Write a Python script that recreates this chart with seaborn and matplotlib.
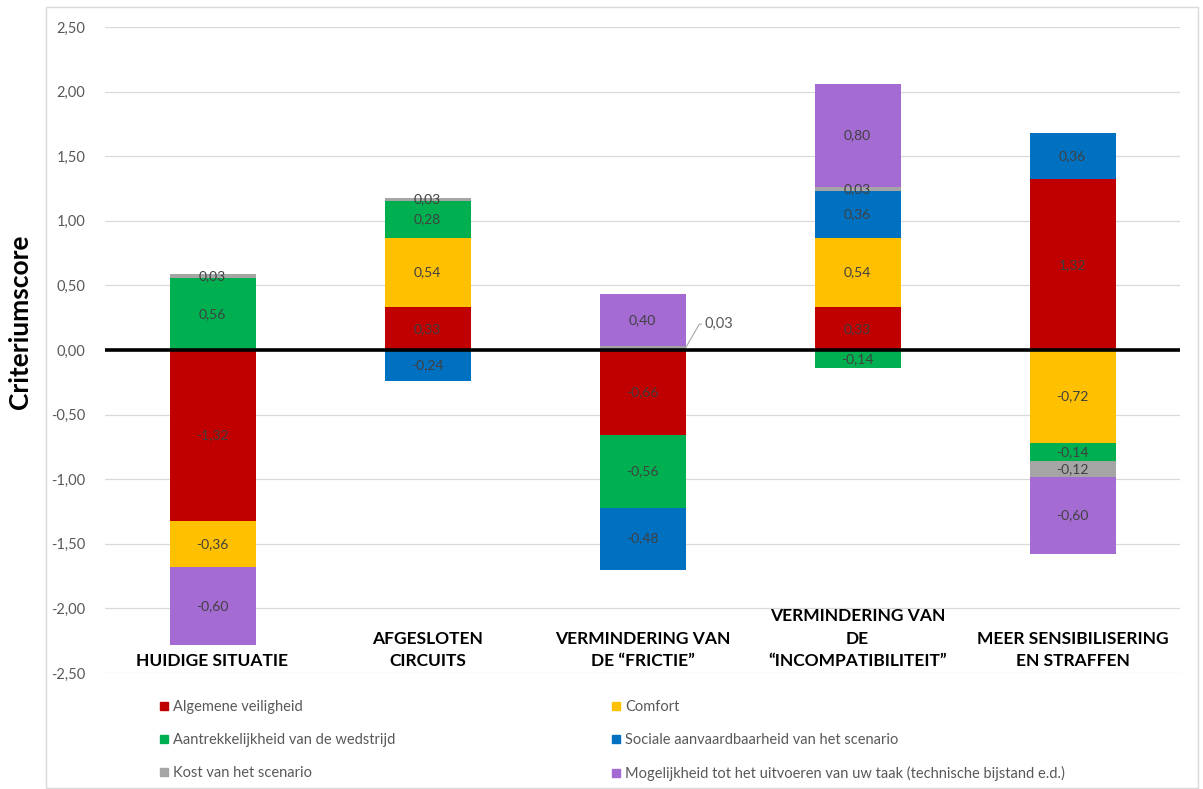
import matplotlib
matplotlib.use("Agg")
import numpy as np
import pandas as pd
import matplotlib.pyplot as plt
import seaborn as sns
from matplotlib.lines import Line2D
from matplotlib.patches import Rectangle
from matplotlib.ticker import FuncFormatter

# Scenarios (x categories) and the criteria scores per scenario
scenarios = [
    "HUIDIGE SITUATIE",
    "AFGESLOTEN\nCIRCUITS",
    "VERMINDERING VAN\nDE \u201cFRICTIE\u201d",
    "VERMINDERING VAN\nDE\n\u201cINCOMPATIBILITEIT\u201d",
    "MEER SENSIBILISERING\nEN STRAFFEN",
]
criteria = [
    "Algemene veiligheid",
    "Comfort",
    "Aantrekkelijkheid van de wedstrijd",
    "Sociale aanvaardbaarheid van het scenario",
    "Kost van het scenario",
    "Mogelijkheid tot het uitvoeren van uw taak (technische bijstand e.d.)",
]
algemene_veiligheid = [-1.32, 0.33, -0.66, 0.33, 1.32]
comfort = [-0.36, 0.54, 0.00, 0.54, -0.72]
aantrekkelijkheid = [0.56, 0.28, -0.56, -0.14, -0.14]
sociale_aanvaardbaarheid = [0.00, -0.24, -0.48, 0.36, 0.36]
kost = [0.03, 0.03, 0.03, 0.03, -0.12]
mogelijkheid = [-0.60, 0.00, 0.40, 0.80, -0.60]
series = [algemene_veiligheid, comfort, aantrekkelijkheid,
          sociale_aanvaardbaarheid, kost, mogelijkheid]
colors = ["#C00000", "#FFC000", "#00B050", "#0070C0", "#A5A5A5", "#A46CD3"]
y_ticks = [-2.5, -2.0, -1.5, -1.0, -0.5, 0.0, 0.5, 1.0, 1.5, 2.0, 2.5]

sns.set_theme(style="white")
plt.rcParams["font.family"] = ["Lato", "DejaVu Sans"]

fig = plt.figure(figsize=(12.03, 7.89), dpi=100)
ax = fig.add_axes([105 / 1203, 1 - 673 / 789, (1180 - 105) / 1203, (673 - 27) / 789])

def fmt(v):
    return f"{v:.2f}".replace(".", ",")

pos_base = np.zeros(len(scenarios))
neg_base = np.zeros(len(scenarios))
label_pos = []
for name, vals, col in zip(criteria, series, colors):
    vals = np.asarray(vals, dtype=float)
    bottoms = np.where(vals >= 0, pos_base, neg_base)
    df = pd.DataFrame({"scenario": scenarios, "score": vals})
    sns.barplot(data=df, x="scenario", y="score", order=scenarios, color=col,
                saturation=1, width=0.4, errorbar=None, bottom=bottoms,
                linewidth=0, ax=ax)
    for i, (v, b) in enumerate(zip(vals, bottoms)):
        if v != 0:
            label_pos.append((i, b + v / 2, v))
    pos_base = np.where(vals >= 0, pos_base + vals, pos_base)
    neg_base = np.where(vals < 0, neg_base + vals, neg_base)

# Value labels inside the segments; the thin cost segment of scenario 3 gets a callout
for i, yc, v in label_pos:
    if i == 2 and abs(v - 0.03) < 1e-9:
        ax.annotate(fmt(v), xy=(i + 0.2, yc), xytext=(i + 0.29, 0.2),
                    fontsize=10.5, color="#595959", va="center", ha="left",
                    arrowprops=dict(arrowstyle="-", color="#A6A6A6", lw=0.8,
                                    shrinkA=0, shrinkB=0,
                                    connectionstyle="angle,angleA=0,angleB=60"))
    else:
        ax.text(i, yc, fmt(v), ha="center", va="center", fontsize=10,
                color="#404040")

# Scenario names inside the plot, just above the lowest gridline
for i, s in enumerate(scenarios):
    ax.text(i, -2.47, s, ha="center", va="bottom", fontsize=12.5,
            fontweight="bold", color="black", linespacing=1.5)

ax.axhline(0, color="black", lw=2.6, zorder=5)
ax.set_ylim(-2.5, 2.5)
ax.set_xlim(-0.5, len(scenarios) - 0.5)
ax.set_yticks(y_ticks)
ax.yaxis.set_major_formatter(FuncFormatter(lambda v, _: fmt(v)))
ax.grid(axis="y", color="#D9D9D9", lw=0.9)
ax.set_axisbelow(True)
ax.set_xticks([])
ax.set_xlabel("")
ax.set_ylabel("")
ax.tick_params(axis="y", length=0, pad=14, labelsize=10.5, labelcolor="#595959")
for sp in ax.spines.values():
    sp.set_visible(False)

fig.text(20 / 1203, 1 - 322 / 789, "Criteriumscore", rotation=90, ha="center",
         va="center", fontsize=19, fontweight="bold", color="black")

# Legend in two columns below the chart
def handle(c):
    return Line2D([], [], marker="s", linestyle="none", markersize=6,
                  markerfacecolor=c, markeredgecolor=c)

for cols, x0 in (([0, 2, 4], 158), ([1, 3, 5], 610)):
    fig.legend([handle(colors[k]) for k in cols], [criteria[k] for k in cols],
               loc="upper left", bbox_to_anchor=(x0 / 1203, 1 - 700 / 789),
               frameon=False, fontsize=10.5, labelcolor="#595959",
               handlelength=0.8, handletextpad=0.25, borderpad=0,
               borderaxespad=0, labelspacing=1.3)

# Light frame around the whole chart
fig.patches.append(Rectangle((46 / 1203, 1 / 789), (1198 - 46) / 1203,
                             (782 - 1) / 789, transform=fig.transFigure,
                             fill=False, edgecolor="#D9D9D9", lw=1))

fig.savefig("out.png", dpi=100)
